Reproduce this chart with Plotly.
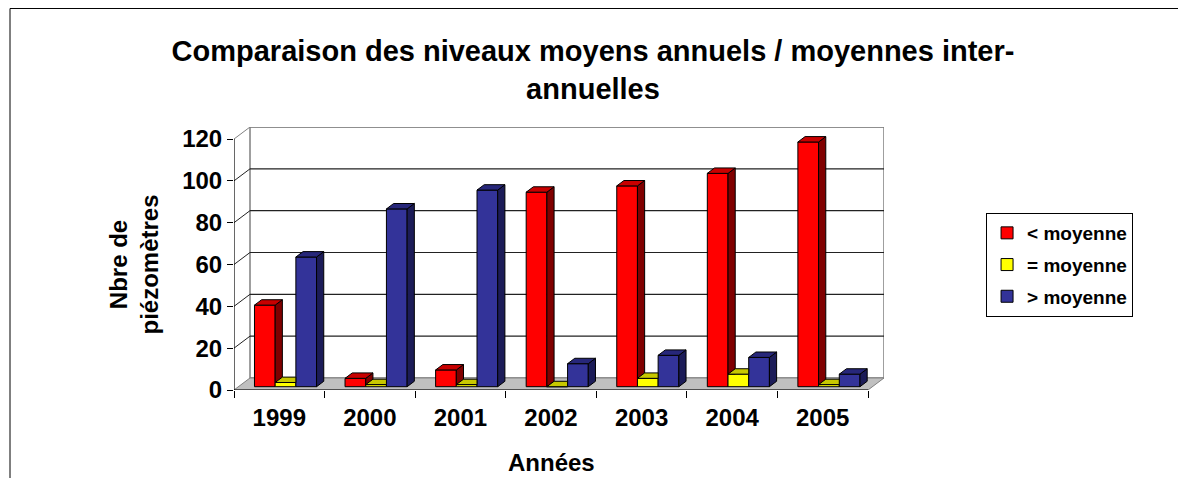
import plotly.graph_objects as go

# ---------------- data ----------------
years = ['1999', '2000', '2001', '2002', '2003', '2004', '2005']
below_mean = [39, 4, 8, 93, 96, 102, 117]   # < moyenne
equal_mean = [2, 1, 1, 0, 4, 6, 1]          # = moyenne
above_mean = [62, 85, 94, 11, 15, 14, 6]    # > moyenne
series_names = ['< moyenne', '= moyenne', '> moyenne']
y_ticks = [0, 20, 40, 60, 80, 100, 120]

# ---------------- styles ----------------
front_colors = ['#FF0000', '#FFFF00', '#333399']
top_colors = ['#C80000', '#C8C800', '#27277A']
side_colors = ['#800000', '#808000', '#1C1C58']
FONT = 'Liberation Sans, Arial, sans-serif'

# pseudo-3D geometry (axis units)
X0, X1 = -0.5, len(years) - 0.5
DX, DY = 0.1767, 5.745          # depth offset of back wall
W = 0.2285                      # bar width
OFFS = [-0.274, -0.0455, 0.183] # bar left edge relative to category centre
BDX, BDY = 0.45 * DX, 0.45 * DY # bar depth
BASE = 0.275 * DY               # bars sit in the middle of the floor depth
YMAX = max(y_ticks)

series = [below_mean, equal_mean, above_mean]


def clip_above(poly, h):
    """Keep part of polygon with y >= h."""
    out = []
    n = len(poly)
    for k in range(n):
        p, q = poly[k], poly[(k + 1) % n]
        pin, qin = p[1] >= h, q[1] >= h
        if pin:
            out.append(p)
        if pin != qin:
            t = (h - p[1]) / (q[1] - p[1])
            out.append((p[0] + t * (q[0] - p[0]), h))
    return out


def clip_left(poly, xc):
    out = []
    n = len(poly)
    for k in range(n):
        p, q = poly[k], poly[(k + 1) % n]
        pin, qin = p[0] <= xc, q[0] <= xc
        if pin:
            out.append(p)
        if pin != qin:
            t = (xc - p[0]) / (q[0] - p[0])
            out.append((xc, p[1] + t * (q[1] - p[1])))
    return out


fig = go.Figure()

# front faces: real bars
for s, vals in enumerate(series):
    fig.add_trace(go.Bar(
        x=list(range(len(years))), y=vals, base=[BASE] * len(vals),
        width=W, offset=OFFS[s], name=series_names[s],
        marker=dict(color=front_colors[s], line=dict(color='black', width=1)),
        legendgroup=series_names[s], hoverinfo='skip'))

# side and top faces computed from the same values
for s, vals in enumerate(series):
    sx, sy, tx, ty = [], [], [], []
    for i, v in enumerate(vals):
        x0 = i + OFFS[s]
        x1 = x0 + W
        top = BASE + v
        side = [(x1, BASE), (x1 + BDX, BASE + BDY), (x1 + BDX, top + BDY), (x1, top)]
        tface = [(x0, top), (x0 + BDX, top + BDY), (x1 + BDX, top + BDY), (x1, top)]
        if s < 2:
            hn = BASE + series[s + 1][i]
            side = clip_above(side, hn)
            if hn >= top + BDY:
                tface = clip_left(tface, x1)
        if len(side) >= 3:
            for p in side + [side[0]]:
                sx.append(p[0]); sy.append(p[1])
            sx.append(None); sy.append(None)
        for p in tface + [tface[0]]:
            tx.append(p[0]); ty.append(p[1])
        tx.append(None); ty.append(None)
    fig.add_trace(go.Scatter(x=sx, y=sy, mode='lines', fill='toself',
                             fillcolor=side_colors[s], line=dict(color='black', width=1),
                             showlegend=False, hoverinfo='skip'))
    fig.add_trace(go.Scatter(x=tx, y=ty, mode='lines', fill='toself',
                             fillcolor=top_colors[s], line=dict(color='black', width=1),
                             showlegend=False, hoverinfo='skip'))

shapes = []
# left wall
shapes.append(dict(type='path', layer='below',
                   path=f'M {X0},0 L {X0+DX},{DY} L {X0+DX},{YMAX+DY} L {X0},{YMAX} Z',
                   fillcolor='white', line=dict(width=0)))
# back wall
shapes.append(dict(type='rect', layer='below', x0=X0 + DX, x1=X1 + DX, y0=DY, y1=YMAX + DY,
                   fillcolor='white', line=dict(color='#808080', width=1.5)))
# gridlines on back wall and left wall
for v in y_ticks[1:]:
    col = '#808080' if v == YMAX else '#222222'
    shapes.append(dict(type='line', layer='below', x0=X0 + DX, x1=X1 + DX, y0=v + DY, y1=v + DY,
                       line=dict(color=col, width=1.2)))
    shapes.append(dict(type='line', layer='below', x0=X0, x1=X0 + DX, y0=v, y1=v + DY,
                       line=dict(color=col, width=1)))
# floor
shapes.append(dict(type='path', layer='below',
                   path=f'M {X0},0 L {X1},0 L {X1+DX},{DY} L {X0+DX},{DY} Z',
                   fillcolor='#C0C0C0', line=dict(color='#808080', width=1)))
# front edges / axes
shapes.append(dict(type='line', x0=X0, x1=X1, y0=0, y1=0, line=dict(color='black', width=1.2)))
shapes.append(dict(type='line', x0=X0, x1=X0, y0=0, y1=YMAX, line=dict(color='black', width=1.2)))
# outer chart border (top and left edges visible)
shapes.append(dict(type='rect', xref='paper', yref='paper', x0=-0.3446, x1=1.6,
                   y0=-0.5, y1=1.4506, line=dict(color='black', width=1), layer='below'))

fig.update_layout(
    width=1170, height=470,
    margin=dict(l=226, r=294, t=119, b=88, pad=0),
    paper_bgcolor='white', plot_bgcolor='white',
    barmode='overlay',
    shapes=shapes,
    title=dict(text='Comparaison des niveaux moyens annuels / moyennes inter-<br>annuelles',
               x=0.5, xref='container', xanchor='center', y=0.887, yref='container', yanchor='middle',
               font=dict(family=FONT, size=29, color='black', weight='bold')),
    xaxis=dict(range=[X0, X1 + DX], tickmode='array', tickvals=list(range(len(years))),
               ticktext=years, ticks='', showgrid=False, zeroline=False, showline=False,
               ticklabelstandoff=11,
               tickfont=dict(family=FONT, size=24, color='black', weight='bold'),
               minor=dict(tickvals=[i - 0.5 for i in range(len(years) + 1)], ticks='outside',
                          ticklen=7, tickcolor='black', tickwidth=1, showgrid=False)),
    yaxis=dict(range=[0, YMAX + DY], tickmode='array', tickvals=y_ticks, ticks='outside',
               ticklen=6, tickcolor='black', showgrid=False, zeroline=False, showline=False,
               tickfont=dict(family=FONT, size=24, color='black', weight='bold')),
    legend=dict(x=1.157, y=0.673, xanchor='left', yanchor='top',
                bordercolor='black', borderwidth=1, bgcolor='white',
                font=dict(family=FONT, size=19, color='black', weight='bold'),
                itemwidth=30, tracegroupgap=4, traceorder='grouped'),
    annotations=[
        dict(text='Nbre de<br>piézomètres', textangle=-90, xref='paper', yref='paper',
             x=-0.1546, y=0.4753, xanchor='center', yanchor='middle', showarrow=False,
             font=dict(family=FONT, size=24, color='black', weight='bold')),
        dict(text='Années', xref='x', yref='paper', x=3, y=-0.2738,
             xanchor='center', yanchor='middle', showarrow=False,
             font=dict(family=FONT, size=24, color='black', weight='bold')),
    ],
)

fig.write_html('out.html')
